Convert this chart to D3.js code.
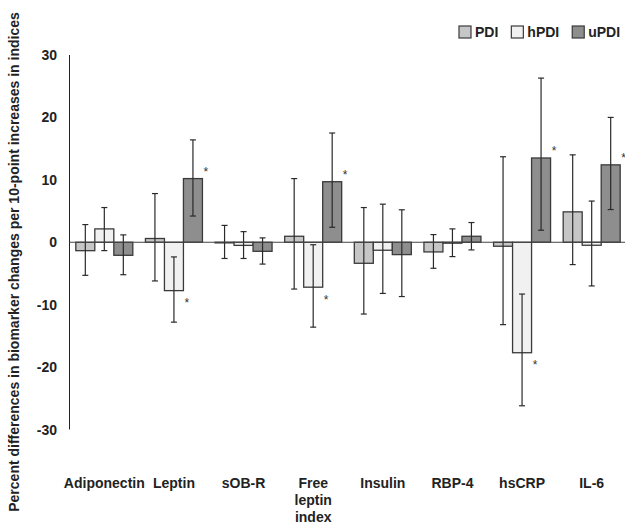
<!DOCTYPE html>
<html>
<head>
<meta charset="utf-8">
<script src="https://cdn.jsdelivr.net/npm/d3@7"></script>
<style>
  html, body { margin: 0; padding: 0; background: #fff; }
  svg { display: block; font-family: "Liberation Sans", Arial, sans-serif; }
</style>
</head>
<body>
<svg id="chart" width="625" height="525"></svg>
<script>
// ---- data ----
const categories = ["Adiponectin", "Leptin", "sOB-R", "Free leptin index", "Insulin", "RBP-4", "hsCRP", "IL-6"];
const seriesNames = ["PDI", "hPDI", "uPDI"];
const pdiValues  = [-1.35, 0.6, -0.1, 0.96, -3.37, -1.55, -0.64, 4.87];
const pdiLower   = [-5.3, -6.2, -2.6, -7.5, -11.5, -4.17, -13.2, -3.58];
const pdiUpper   = [2.83, 7.8, 2.7, 10.2, 5.56, 1.23, 13.7, 14.0];
const hpdiValues = [2.14, -7.75, -0.5, -7.2, -1.28, -0.15, -17.7, -0.48];
const hpdiLower  = [-1.34, -12.8, -2.6, -13.6, -8.2, -2.3, -26.2, -7.0];
const hpdiUpper  = [5.56, -2.35, 1.7, -0.4, 6.1, 2.14, -8.3, 6.6];
const updiValues = [-2.09, 10.2, -1.45, 9.7, -1.98, 0.96, 13.5, 12.4];
const updiLower  = [-5.2, 4.2, -3.5, 2.4, -8.7, -1.23, 1.93, 5.24];
const updiUpper  = [1.18, 16.4, 0.7, 17.5, 5.2, 3.16, 26.3, 20.0];
const pdiSig  = [false, false, false, false, false, false, false, false];
const hpdiSig = [false, true, false, true, false, false, true, false];
const updiSig = [false, true, false, true, false, false, true, true];
const yTicks = [30, 20, 10, 0, -10, -20, -30];
const yTitle = "Percent differences in biomarker changes per 10-point increases in indices";

const colors = { "PDI": "#c6c6c6", "hPDI": "#f1f1f1", "uPDI": "#8e8e8e" };
const series = [
  { name: "PDI",  values: pdiValues,  lower: pdiLower,  upper: pdiUpper,  sig: pdiSig },
  { name: "hPDI", values: hpdiValues, lower: hpdiLower, upper: hpdiUpper, sig: hpdiSig },
  { name: "uPDI", values: updiValues, lower: updiLower, upper: updiUpper, sig: updiSig }
];

// ---- layout ----
const svg = d3.select("#chart");
const axisX = 69.5;
const y = d3.scaleLinear().domain([-30, 30]).range([429.5, 55]);
const x0 = d3.scaleBand().domain(categories).range([axisX, 626.5]).paddingInner(0).paddingOuter(0);
const barW = 19;
const x1 = d3.scaleBand().domain(seriesNames).range([0, barW * 3]);
const groupOffset = (x0.bandwidth() - barW * 3) / 2;

// y-axis line (no ticks)
svg.append("line")
  .attr("x1", axisX).attr("x2", axisX)
  .attr("y1", y(30)).attr("y2", y(-30))
  .attr("stroke", "#222").attr("stroke-width", 1);

// tick labels
svg.append("g").selectAll("text").data(yTicks).join("text")
  .attr("x", 57).attr("y", d => y(d) + 5)
  .attr("text-anchor", "end")
  .attr("font-size", 14).attr("font-weight", "bold").attr("fill", "#222")
  .text(d => d);

// y-axis title
svg.append("text")
  .attr("transform", `translate(19, 262) rotate(-90)`)
  .attr("text-anchor", "middle")
  .attr("font-size", 14).attr("font-weight", "bold").attr("fill", "#222")
  .text(yTitle);

// bars
const groups = svg.append("g").selectAll("g").data(series).join("g");
groups.each(function(s) {
  const g = d3.select(this);
  const data = categories.map((c, i) => ({ c, i, v: s.values[i], lo: s.lower[i], hi: s.upper[i], sig: s.sig[i] }));
  const bx = d => x0(d.c) + groupOffset + x1(s.name);
  g.selectAll("rect").data(data).join("rect")
    .attr("x", bx)
    .attr("width", barW)
    .attr("y", d => Math.min(y(d.v), y(0)))
    .attr("height", d => Math.abs(y(d.v) - y(0)))
    .attr("fill", colors[s.name])
    .attr("stroke", "#3a3a3a").attr("stroke-width", 1.3);
});

// zero line
svg.append("line")
  .attr("x1", axisX).attr("x2", 625)
  .attr("y1", y(0)).attr("y2", y(0))
  .attr("stroke", "#444").attr("stroke-width", 1.2);

// error bars and asterisks
groups.each(function(s) {
  const g = d3.select(this);
  const data = categories.map((c, i) => ({ c, i, v: s.values[i], lo: s.lower[i], hi: s.upper[i], sig: s.sig[i] }));
  const cx = d => x0(d.c) + groupOffset + x1(s.name) + barW / 2;
  const eb = g.append("g").selectAll("g").data(data).join("g").attr("stroke", "#2a2a2a").attr("stroke-width", 1.2);
  eb.append("line").attr("x1", cx).attr("x2", cx).attr("y1", d => y(d.hi)).attr("y2", d => y(d.lo));
  eb.append("line").attr("x1", d => cx(d) - 3).attr("x2", d => cx(d) + 3).attr("y1", d => y(d.hi)).attr("y2", d => y(d.hi));
  eb.append("line").attr("x1", d => cx(d) - 3).attr("x2", d => cx(d) + 3).attr("y1", d => y(d.lo)).attr("y2", d => y(d.lo));
  g.selectAll("text.sig").data(data.filter(d => d.sig)).join("text")
    .attr("class", "sig")
    .attr("x", d => x0(d.c) + groupOffset + x1(s.name) + barW + 3.5)
    .attr("y", d => (d.v >= 0 ? y(d.v) - 9.5 : y(d.v) + 10) + 6.5)
    .attr("text-anchor", "middle")
    .attr("font-size", 12).attr("fill", "#333")
    .text("*");
});

// category labels
const labels = svg.append("g").selectAll("text").data(categories).join("text")
  .attr("x", d => x0(d) + x0.bandwidth() / 2)
  .attr("y", 488)
  .attr("text-anchor", "middle")
  .attr("font-size", 14).attr("font-weight", "bold").attr("fill", "#222");
labels.each(function(d) {
  const words = d === "Free leptin index" ? ["Free", "leptin", "index"] : [d];
  const t = d3.select(this);
  const cx = x0(d) + x0.bandwidth() / 2;
  words.forEach((w, k) => t.append("tspan").attr("x", cx).attr("dy", k === 0 ? 0 : 17).text(w));
});

// legend
const legend = svg.append("g");
let lx = 459;
seriesNames.forEach(name => {
  const item = legend.append("g").attr("transform", `translate(${lx},0)`);
  item.append("rect").attr("x", 0).attr("y", 26).attr("width", 12).attr("height", 12)
    .attr("fill", colors[name]).attr("stroke", "#3a3a3a").attr("stroke-width", 1.2);
  const t = item.append("text").attr("x", 16).attr("y", 37)
    .attr("font-size", 14).attr("font-weight", "bold").attr("fill", "#222").text(name);
  lx += 16 + t.node().getComputedTextLength() + 13;
});
</script>
</body>
</html>
